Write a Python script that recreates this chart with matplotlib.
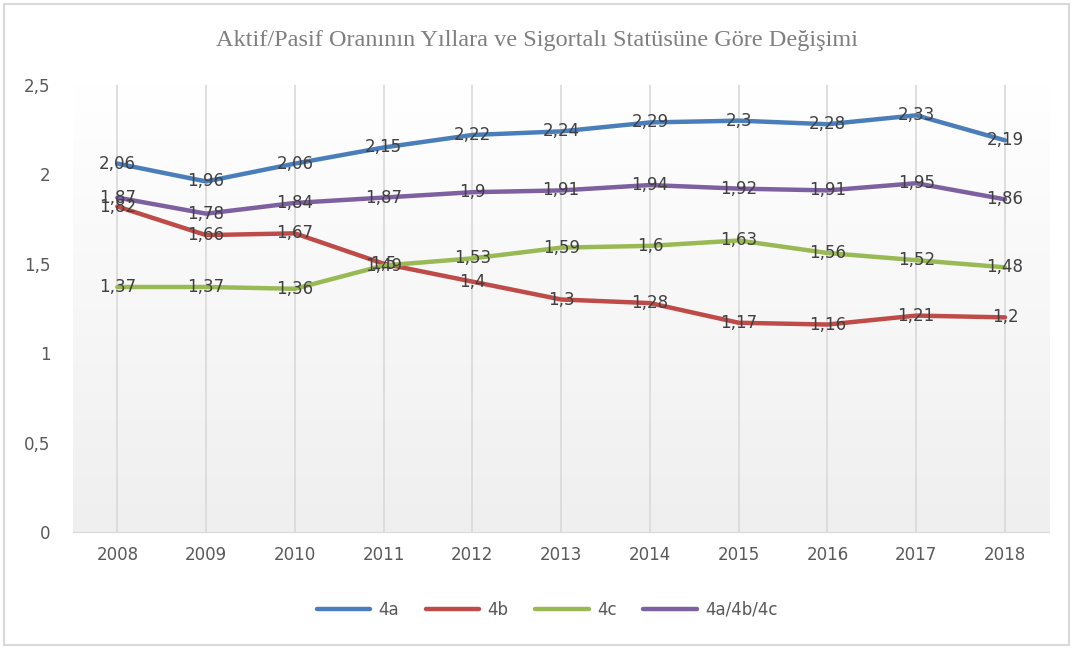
import matplotlib.pyplot as plt
import numpy as np
from matplotlib.patches import Rectangle
from matplotlib.colors import LinearSegmentedColormap

years = ["2008", "2009", "2010", "2011", "2012", "2013", "2014", "2015", "2016", "2017", "2018"]
s_4a = [2.06, 1.96, 2.06, 2.15, 2.22, 2.24, 2.29, 2.3, 2.28, 2.33, 2.19]
s_4b = [1.82, 1.66, 1.67, 1.5, 1.4, 1.3, 1.28, 1.17, 1.16, 1.21, 1.2]
s_4c = [1.37, 1.37, 1.36, 1.49, 1.53, 1.59, 1.6, 1.63, 1.56, 1.52, 1.48]
s_all = [1.87, 1.78, 1.84, 1.87, 1.9, 1.91, 1.94, 1.92, 1.91, 1.95, 1.86]

series = [
    ("4a", s_4a, "#4A7EBB"),
    ("4b", s_4b, "#BE4B48"),
    ("4c", s_4c, "#98B954"),
    ("4a/4b/4c", s_all, "#7D60A0"),
]

fig = plt.figure(figsize=(10.73, 6.48), dpi=100)
ax = fig.add_axes([0.068, 0.179, 0.910, 0.690])

x = np.arange(len(years))
ax.set_xlim(-0.5, len(years) - 0.5)
ax.set_ylim(0, 2.5)

# plot area gradient
grad = np.linspace(1, 0, 256).reshape(-1, 1)
cmap = LinearSegmentedColormap.from_list("g", ["#efefef", "#ffffff"])
ax.imshow(grad, extent=[-0.5, len(years) - 0.5, 0, 2.5], aspect="auto",
          cmap=cmap, vmin=0, vmax=1, zorder=0)

for xi in x:
    ax.axvline(xi, color="#d9d9d9", lw=1.2, zorder=1)

for name, vals, col in series:
    ax.plot(x, vals, color=col, lw=3.2, label=name, zorder=3, solid_capstyle="round")

for name, vals, col in series:
    for xi, v in zip(x, vals):
        ax.text(xi, v, f"{v:g}".replace(".", ","), ha="center", va="center",
                fontsize=12, color="#404040", zorder=4)

ax.set_xticks(x)
ax.set_xticklabels(years)
ax.set_yticks([0, 0.5, 1, 1.5, 2, 2.5])
ax.set_yticklabels(["0", "0,5", "1", "1,5", "2", "2,5"])
ax.tick_params(axis="both", length=0, labelsize=12, colors="#595959")
ax.tick_params(axis="y", pad=16)
ax.tick_params(axis="x", pad=10)
for sp in ["top", "right", "left"]:
    ax.spines[sp].set_visible(False)
ax.spines["bottom"].set_color("#d9d9d9")

fig.text(0.5, 0.938, "Aktif/Pasif Oranının Yıllara ve Sigortalı Statüsüne Göre Değişimi",
         ha="center", va="center", fontsize=17.5, color="#7f7f7f", family="Liberation Serif")

fig.legend(loc="center", bbox_to_anchor=(0.51, 0.059), ncol=4, frameon=False,
           fontsize=12, handlelength=3.2, columnspacing=1.6, handletextpad=0.5,
           labelcolor="#595959")

fig.patches.append(Rectangle((0.004, 0.004), 0.992, 0.99, transform=fig.transFigure,
                             fill=False, edgecolor="#d9d9d9", lw=1.5))

fig.savefig("out.png", dpi=100)
